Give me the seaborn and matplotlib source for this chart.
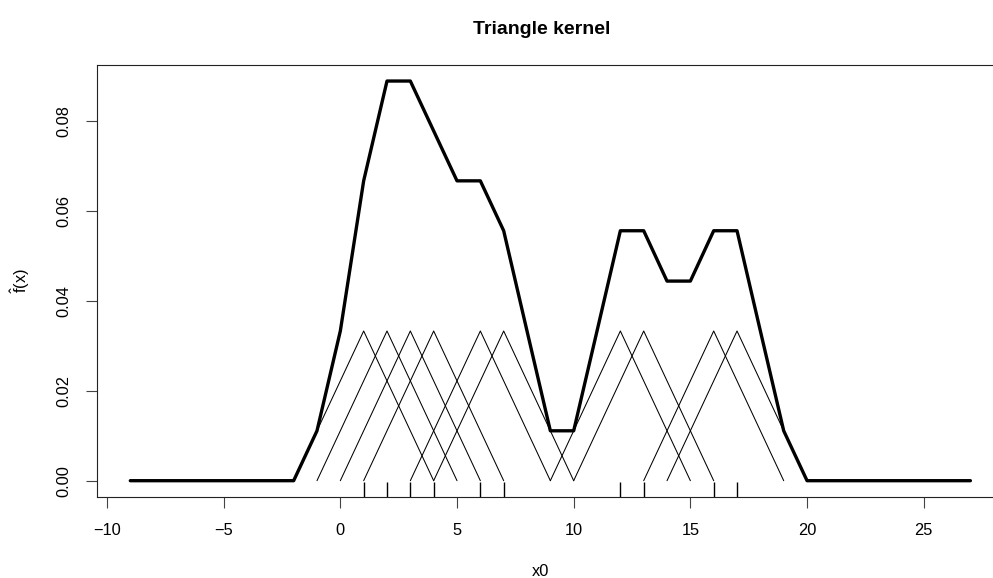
import numpy as np
import pandas as pd
import matplotlib
matplotlib.use("Agg")
import matplotlib.pyplot as plt
import seaborn as sns

# ---- data ----
obs = [1, 2, 3, 4, 6, 7, 12, 13, 16, 17]          # rug / kernel centres
kernel_peak = 0.0333                               # height of each triangle
kernel_halfwidth = 3                               # half base of each triangle
grid_x = list(range(-9, 28))
density_y = [0, 0, 0, 0, 0, 0, 0, 0,
             0.0111, 0.0333, 0.0667, 0.0889, 0.0889, 0.0778, 0.0667, 0.0667,
             0.0556, 0.0333, 0.0111, 0.0111, 0.0333, 0.0556, 0.0556, 0.0444,
             0.0444, 0.0556, 0.0556, 0.0333, 0.0111,
             0, 0, 0, 0, 0, 0, 0, 0]
x_ticks = [-10, -5, 0, 5, 10, 15, 20, 25]
y_ticks = [0.00, 0.02, 0.04, 0.06, 0.08]

sns.set_style("white")
plt.rcParams["font.family"] = ["Liberation Sans", "DejaVu Sans"]
plt.rcParams["mathtext.fontset"] = "custom"
plt.rcParams["mathtext.rm"] = "Liberation Sans"
plt.rcParams["mathtext.it"] = "Liberation Sans:italic"
plt.rcParams["text.color"] = "black"
plt.rcParams["xtick.color"] = "black"
plt.rcParams["ytick.color"] = "black"

tri_rows = []
for i, p in enumerate(obs):
    for xx, yy in [(p - kernel_halfwidth, 0.0), (p, kernel_peak), (p + kernel_halfwidth, 0.0)]:
        tri_rows.append({"x": xx, "y": yy, "unit": i})
tri = pd.DataFrame(tri_rows)
dens = pd.DataFrame({"x": grid_x, "y": density_y})
rug = pd.DataFrame({"x": obs})

fig = plt.figure(figsize=(9.93, 5.78), dpi=100)
L, R, T, B = 96.7, 1004.0, 65.3, 496.7
ax = fig.add_axes([L / 993, 1 - B / 578, (R - L) / 993, (B - T) / 578])

sns.lineplot(data=tri, x="x", y="y", units="unit", estimator=None, color="black",
             lw=0.75, ax=ax, legend=False)
sns.lineplot(data=dens, x="x", y="y", color="black", lw=2.4, ax=ax, legend=False)
sns.rugplot(data=rug, x="x", height=0.035, color="black", lw=1.5, ax=ax)

ax.set_xlim(-10.44, 28.44)
ax.set_ylim(-0.00356, 0.0924)
ax.set_xticks(x_ticks)
ax.set_xticklabels([f"{t:g}".replace("-", "\u2212") for t in x_ticks])
ax.set_yticks(y_ticks)
ax.set_yticklabels([f"{t:.2f}" for t in y_ticks], rotation=90, va="center")
ax.tick_params(axis="both", direction="out", length=8, width=0.8, color="#444444",
               labelcolor="black", labelsize=11.8, pad=10, bottom=True, left=True)
ax.tick_params(axis="x", pad=11)
for s in ax.spines.values():
    s.set_visible(True)
    s.set_color("#222222")
    s.set_linewidth(0.8)
ax.set_xlabel("")
ax.set_ylabel("")

fig.text((L + 986) / 2 / 993, 1 - 30 / 578, "Triangle kernel", ha="center",
         va="center", fontsize=14, fontweight="bold", color="black")
fig.text(541 / 993, 1 - 572 / 578, "x0", ha="center", va="center", fontsize=11.8,
         color="black")
fig.text(20 / 993, 1 - 281 / 578, r"$\hat{\mathrm{f}}\mathrm{(x)}$", ha="center",
         va="center", rotation=90, fontsize=11.8, color="black")

fig.savefig("out.png", dpi=100)
